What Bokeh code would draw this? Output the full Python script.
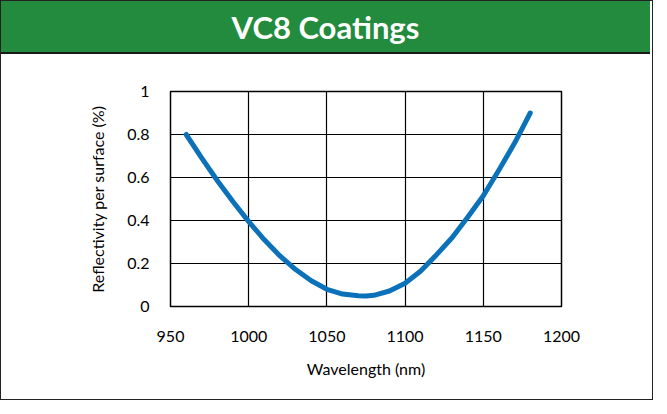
from bokeh.plotting import figure
from bokeh.models import Div, FixedTicker
from bokeh.layouts import column
from bokeh.embed import file_html
from bokeh.resources import INLINE

title_text = "VC8 Coatings"
x_label = "Wavelength (nm)"
y_label = "Reflectivity per surface (%)"

x_ticks = [950, 1000, 1050, 1100, 1150, 1200]
y_ticks = [0, 0.2, 0.4, 0.6, 0.8, 1.0]
y_tick_labels = {0: "0", 0.2: "0.2", 0.4: "0.4", 0.6: "0.6", 0.8: "0.8", 1: "1"}

wavelength = [960, 970, 980, 990, 1000, 1010, 1020, 1030, 1040, 1050, 1060,
              1070, 1075, 1080, 1090, 1100, 1110, 1120, 1130, 1140, 1150,
              1160, 1170, 1175, 1180]
reflectivity = [0.80, 0.69, 0.585, 0.487, 0.395, 0.31, 0.235, 0.172, 0.12, 0.08, 0.058,
                0.05, 0.049, 0.052, 0.072, 0.108, 0.165, 0.24, 0.32, 0.415, 0.515,
                0.635, 0.76, 0.83, 0.90]

GREEN = "#228b3d"
BLUE = "#0b72b9"
FONT = "Lato"

header = Div(
    text=f'<div style="width:649px;height:53px;line-height:53px;text-align:center;'
         f'background:{GREEN};color:white;font-family:{FONT};font-weight:bold;'
         f'font-size:31px;border-bottom:2px solid #1a1a1a;">{title_text}</div>',
    width=649, height=55, margin=0,
)

p = figure(width=649, height=343, output_backend="svg", toolbar_location=None,
           x_range=(950, 1200), y_range=(0, 1),
           min_border_left=169, min_border_right=91, min_border_top=35,
           min_border_bottom=93, margin=0)
p.frame_width = 391
p.frame_height = 215

p.line(wavelength, reflectivity, line_color=BLUE, line_width=5, line_cap="round",
       line_join="round")

p.outline_line_color = "black"
p.outline_line_width = 1.5
p.background_fill_color = "white"
p.border_fill_color = "white"

for g in (p.xgrid, p.ygrid):
    g.grid_line_color = "black"
    g.grid_line_width = 1.2
p.xgrid.ticker = FixedTicker(ticks=x_ticks)
p.ygrid.ticker = FixedTicker(ticks=y_ticks)

p.xaxis.ticker = FixedTicker(ticks=x_ticks)
p.yaxis.ticker = FixedTicker(ticks=y_ticks)
p.yaxis.major_label_overrides = y_tick_labels

for ax in (p.xaxis, p.yaxis):
    ax.axis_line_color = None
    ax.major_tick_line_color = None
    ax.minor_tick_line_color = None
    ax.major_label_text_font = FONT
    ax.major_label_text_font_size = "16px"
    ax.major_label_text_color = "black"
    ax.axis_label_text_font = FONT
    ax.axis_label_text_font_size = "16px"
    ax.axis_label_text_font_style = "normal"
    ax.axis_label_text_color = "black"

p.xaxis.axis_label = x_label
p.yaxis.axis_label = y_label
p.xaxis.major_label_standoff = 18
p.xaxis.axis_label_standoff = 14
p.yaxis.major_label_standoff = 15
p.yaxis.axis_label_standoff = 17

layout = column(header, p, spacing=0,
                styles={"border": "1px solid #222", "box-sizing": "border-box"})

open("out.html", "w").write(file_html(layout, INLINE))
